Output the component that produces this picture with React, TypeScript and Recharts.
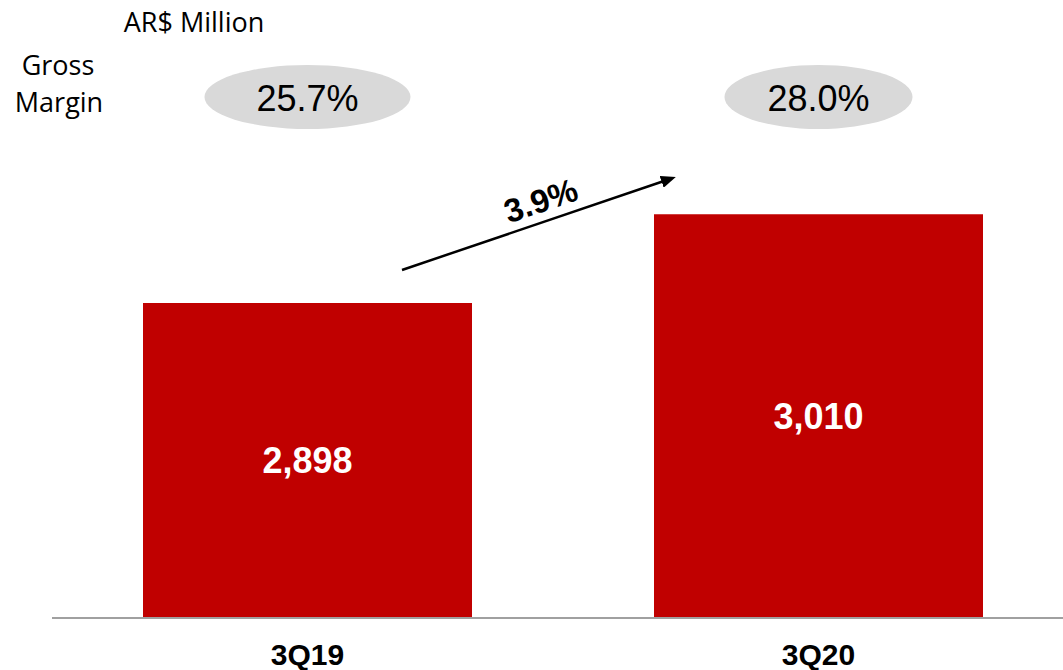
// Gross profit bars, 3Q19 vs 3Q20, with gross-margin bubbles and a growth arrow

import React from "react"
import { Bar, BarChart, LabelList, XAxis, YAxis } from "recharts"

const quarters = ["3Q19", "3Q20"]
const grossProfit = [2898, 3010]
const grossMargin = ["25.7%", "28.0%"]
const growthLabel = "3.9%"

const data = quarters.map((quarter, i) => ({
  quarter,
  value: grossProfit[i],
  margin: grossMargin[i],
}))

const RED = "#c00000"
const SANS = "Arial, 'Liberation Sans', sans-serif"
const LABEL_FONT = "'Open Sans', 'Noto Sans', sans-serif"

const fmt = (v: number) => v.toLocaleString("en-US")

// grey bubble holding the margin, centred over each bar
const MarginBubble = (props: any) => {
  const { x, width, value, index } = props
  const cx = Number(x) + Number(width) / 2
  const rx = index === 0 ? 103 : 94
  return (
    <g>
      <ellipse cx={cx} cy={97} rx={rx} ry={32} fill="#d9d9d9" />
      <text
        x={cx}
        y={111}
        textAnchor="middle"
        fontFamily={SANS}
        fontSize={36}
        fill="#000"
      >
        {value}
      </text>
    </g>
  )
}

const QuarterTick = (props: any) => {
  const { x, y, payload } = props
  return (
    <text
      x={x}
      y={Number(y) + 45}
      textAnchor="middle"
      fontFamily={SANS}
      fontWeight="bold"
      fontSize={30}
      fill="#000"
    >
      {payload.value}
    </text>
  )
}

export default function App() {
  return (
    <div
      style={{
        position: "absolute",
        left: 0,
        top: 0,
        width: 1063,
        height: 670,
        overflow: "hidden",
        background: "#fff",
      }}
    >
      <BarChart
        width={1074}
        height={670}
        data={data}
        margin={{ top: 64, right: 0, bottom: 0, left: 52 }}
      >
        <XAxis
          dataKey="quarter"
          height={52}
          tickLine={false}
          tickSize={0}
          axisLine={{ stroke: "#a0a0a0", strokeWidth: 2 }}
          tick={<QuarterTick />}
          interval={0}
        />
        <YAxis hide domain={[2500, 3200]} allowDataOverflow />
        <Bar dataKey="value" fill={RED} barSize={329} isAnimationActive={false}>
          <LabelList
            dataKey="value"
            position="center"
            formatter={(v: any) => fmt(Number(v))}
            fill="#fff"
            fontFamily={SANS}
            fontWeight="bold"
            fontSize={36}
          />
          <LabelList dataKey="margin" content={<MarginBubble />} />
        </Bar>
      </BarChart>

      <svg
        width={1063}
        height={670}
        style={{ position: "absolute", left: 0, top: 0, pointerEvents: "none" }}
      >
        <defs>
          <marker
            id="head"
            markerWidth="6"
            markerHeight="5"
            refX="1"
            refY="2.5"
            orient="auto"
            markerUnits="strokeWidth"
          >
            <path d="M0,0 L6,2.5 L0,5 Z" fill="#000" />
          </marker>
        </defs>
        <line
          x1={402}
          y1={270}
          x2={664}
          y2={181}
          stroke="#000"
          strokeWidth={2.5}
          markerEnd="url(#head)"
        />
        <text
          x={541}
          y={212}
          textAnchor="middle"
          fontFamily={SANS}
          fontWeight="bold"
          fontSize={33}
          fill="#000"
          transform="rotate(-18.6 541 201)"
        >
          {growthLabel}
        </text>

        <text x={194} y={32} textAnchor="middle" fontFamily={LABEL_FONT} fontSize={27} fill="#000">
          AR$ Million
        </text>
        <text x={58} y={75} textAnchor="middle" fontFamily={LABEL_FONT} fontSize={27} fill="#000">
          Gross
        </text>
        <text x={59} y={112} textAnchor="middle" fontFamily={LABEL_FONT} fontSize={27} fill="#000">
          Margin
        </text>
      </svg>
    </div>
  )
}
